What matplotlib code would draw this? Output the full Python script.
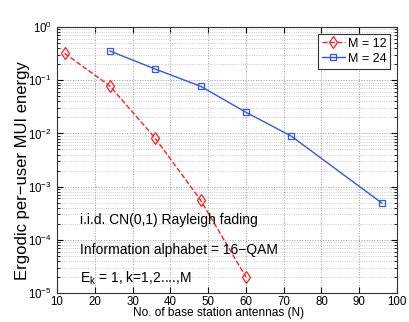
import matplotlib
matplotlib.use('Agg')
from matplotlib import pyplot as plt
from matplotlib.ticker import LogLocator, NullFormatter, MultipleLocator

plt.rcParams['font.family'] = ['Liberation Sans', 'DejaVu Sans']
plt.rcParams['mathtext.fontset'] = 'custom'
plt.rcParams['mathtext.rm'] = 'Liberation Sans'

# data
n_m12 = [12, 24, 36, 48, 60]
e_m12 = [0.32, 0.078, 0.0081, 5.6e-4, 2.0e-5]
n_m24 = [24, 36, 48, 60, 72, 96]
e_m24 = [0.354, 0.162, 0.077, 0.025, 0.0089, 4.9e-4]

fig = plt.figure(figsize=(4.09, 3.22), dpi=100)
ax = fig.add_axes([57 / 409, 1 - 293 / 322, 340 / 409, 266 / 322])

ax.plot(n_m12, e_m12, '--', color='#ff2020', marker='d', markersize=6,
        markerfacecolor='none', markeredgewidth=0.9, linewidth=1.0, label='M = 12')
ax.plot(n_m24, e_m24, '-', color='#3355ee', marker='s', markersize=5,
        markerfacecolor='none', markeredgewidth=0.9, linewidth=1.0, label='M = 24')

ax.set_yscale('log')
ax.set_xlim(10, 100)
ax.set_ylim(1e-5, 1)
ax.xaxis.set_major_locator(MultipleLocator(10))
ax.yaxis.set_major_locator(LogLocator(base=10, numticks=10))
ax.yaxis.set_minor_locator(LogLocator(base=10, subs=range(2, 10), numticks=10))
ax.yaxis.set_minor_formatter(NullFormatter())

ax.grid(True, which='major', linestyle=':', color='#999999', linewidth=0.7)
ax.grid(True, which='minor', axis='y', linestyle=':', color='#bbbbbb', linewidth=0.6)
ax.tick_params(which='both', direction='in', top=True, right=True, labelsize=8.3)
ax.tick_params(axis='x', pad=2.5)
ax.tick_params(which='major', length=4)
ax.tick_params(which='minor', length=2)
for s in ax.spines.values():
    s.set_color('#333333')
    s.set_linewidth(0.8)

ax.set_xlabel('No. of base station antennas (N)', fontsize=8.6)
ax.xaxis.set_label_coords(0.475, -0.054)
ax.set_ylabel('Ergodic per\u2212user MUI energy', fontsize=12)
ax.yaxis.set_label_coords(-0.08, 0.46)

ax.text(16.1, 1.94e-4, 'i.i.d. CN(0,1) Rayleigh fading', fontsize=10, va='baseline')
ax.text(16.1, 5.3e-5, 'Information alphabet = 16\u2212QAM', fontsize=10, va='baseline')
ax.text(16.1, 1.55e-5, r'E$_\mathrm{k}$ = 1, k=1,2....,M', fontsize=10, va='baseline')

leg = ax.legend(loc='upper right', fontsize=9, fancybox=False, framealpha=1,
                edgecolor='#333333', borderpad=0.3, handlelength=1.8,
                labelspacing=0.25, handletextpad=0.25, borderaxespad=0.55)
leg.get_frame().set_linewidth(0.8)

fig.savefig('out.png', dpi=100)
